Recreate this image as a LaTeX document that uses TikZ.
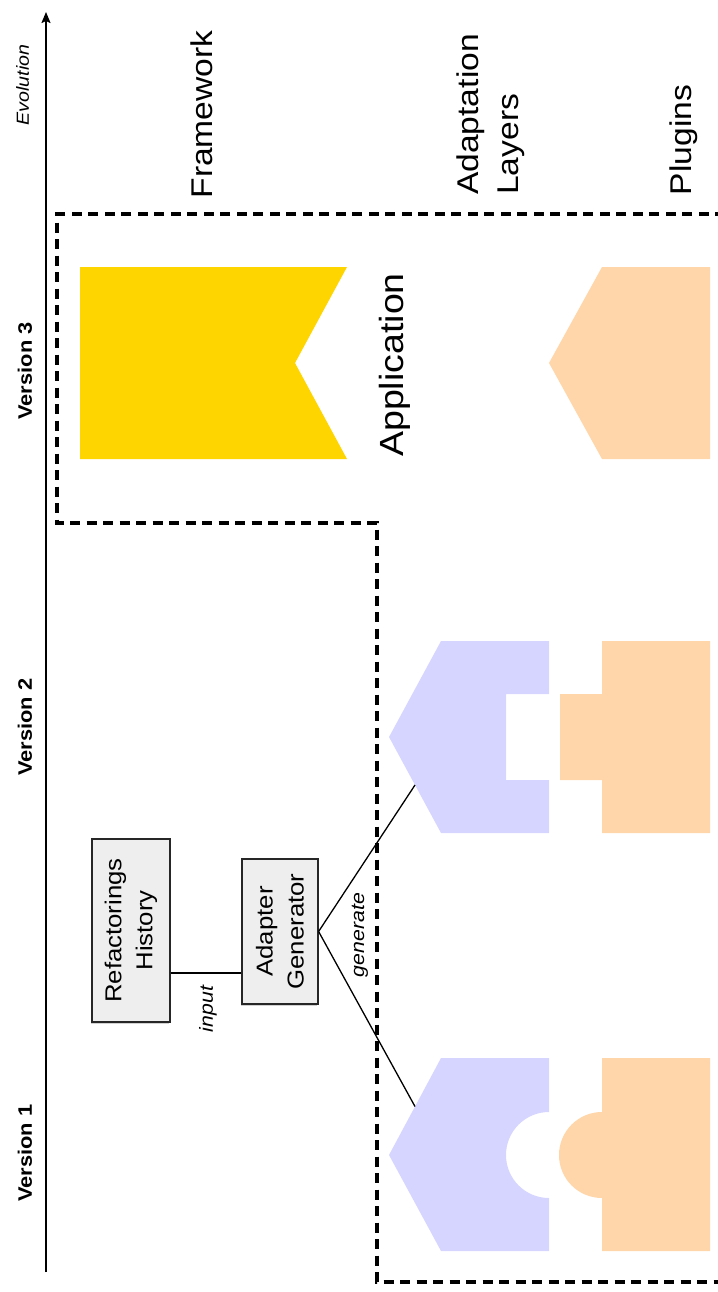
\documentclass[tikz,border=0pt]{standalone}
\usepackage{fontspec}
\setmainfont{Liberation Sans}[FakeStretch=1.12]
\usetikzlibrary{arrows.meta,shadows,calc}

\definecolor{fwyellow}{RGB}{255,213,0}
\definecolor{adaptblue}{RGB}{213,213,255}
\definecolor{pluginpeach}{RGB}{255,213,170}
\definecolor{boxgray}{RGB}{238,238,238}

\begin{document}
\begin{tikzpicture}[x=1pt,y=-1pt,
  heading/.style={rotate=90, inner sep=0pt, font=\fontsize{30}{40}\selectfont},
  version/.style={rotate=90, inner sep=0pt, font=\fontsize{19.5}{24}\selectfont\bfseries},
  axislabel/.style={rotate=90, inner sep=0pt, font=\fontsize{17.5}{21}\selectfont\itshape},
  edgelabel/.style={rotate=90, inner sep=0pt, font=\fontsize{19}{23}\selectfont\itshape},
  toolbox/.style={rotate=90, draw=black!85, line width=1.2pt, fill=boxgray, align=center,
    inner sep=0pt, font=\fontsize{23}{31}\selectfont,
    drop shadow={shadow xshift=-1.5pt, shadow yshift=-1.5pt, opacity=0.3, fill=black!60}},
  region/.style={dash pattern=on 10pt off 6.5pt, line width=3.3pt},
  link/.style={line width=1.3pt},
]
\useasboundingbox (0,0) rectangle (717,1292);

% time axis
\coordinate (axisbase) at (46,1272);
\coordinate (axistip) at (46,12);
\draw[line width=1.8pt, -{Stealth[length=11pt,width=9pt,inset=2pt]}] (axisbase) -- (axistip);
\node[axislabel] (evo) at (22.5,85) {Evolution};

% version labels
\node[version] (ver3) at (25,371) {Version 3};
\node[version] (ver2) at (25,727) {Version 2};
\node[version] (ver1) at (25,1153) {Version 1};

% column headings
\node[heading] (fw) at (201.5,114.5) {Framework};
\node[heading, align=left, anchor=west] (al) at (490.5,195) {Adaptation\\Layers};
\node[heading] (pl) at (683.5,140) {Plugins};

% boundary of the application
\draw[region] (725,214) -- (57,214) -- (57,523) -- (377,523) -- (377,1282) -- (725,1282);
\node[rotate=90, inner sep=0pt, font=\fontsize{33.5}{40}\selectfont] (app) at (395,365) {Application};

% version 3: framework and plugin
\fill[fwyellow] (80,267) -- (347,267) -- (295,363) -- (347,459) -- (80,459) -- cycle;
\fill[pluginpeach] (549,363) -- (602,267) -- (710,267) -- (710,459) -- (602,459) -- cycle;

% version 2: adaptation layer and plugin
\fill[adaptblue] (389,737) -- (441,641) -- (549,641) -- (549,694) -- (506,694) -- (506,780)
  -- (549,780) -- (549,833) -- (441,833) -- cycle;
\fill[pluginpeach] (602,641) -- (710,641) -- (710,833) -- (602,833) -- (602,780) -- (560,780)
  -- (560,694) -- (602,694) -- cycle;
\coordinate (layer2) at ($(389,737)!0.5!(441,833)$);

% version 1: adaptation layer and plugin
\fill[adaptblue] (389,1155) -- (441,1058) -- (549,1058) -- (549,1112)
  arc[start angle=90, end angle=270, radius=43pt] -- (549,1251) -- (441,1251) -- cycle;
\fill[pluginpeach] (602,1058) -- (710,1058) -- (710,1251) -- (602,1251) -- (602,1198)
  arc[start angle=-90, end angle=-270, radius=43pt] -- cycle;
\coordinate (layer1) at ($(389,1155)!0.5!(441,1058)$);

% generator tool chain
\node[toolbox, minimum width=183pt, minimum height=78pt] (hist) at (131,930.5) {Refactorings\\History};
\node[toolbox, minimum width=145pt, minimum height=76pt] (gen) at (280,931.5) {Adapter\\Generator};
\coordinate (inputrow) at (0,973);
\draw[link] (hist.south |- inputrow) -- (gen.north |- inputrow);
\node[edgelabel] (inlbl) at (208,1009) {input};
\draw[link] (gen.south) -- (layer2);
\draw[link] (gen.south) -- (layer1);
\node[edgelabel] (genlbl) at (360,935) {generate};
\end{tikzpicture}
\end{document}
